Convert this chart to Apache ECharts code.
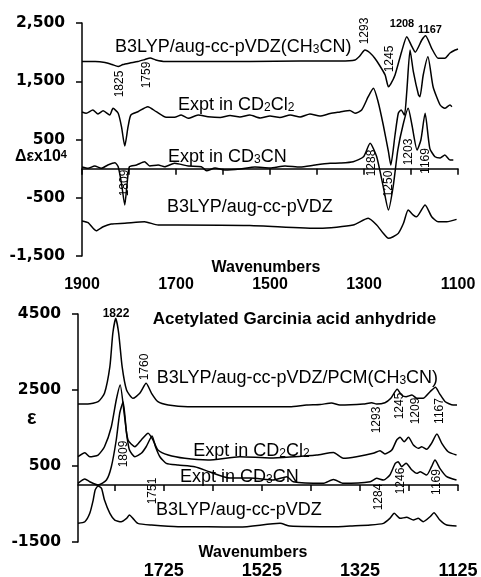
<!DOCTYPE html>
<html>
<head>
<meta charset="utf-8">
<script src="https://cdn.jsdelivr.net/npm/echarts@6/dist/echarts.min.js"></script>
<style>
  html, body { margin: 0; padding: 0; background: #fff; }
  #chart { width: 481px; height: 577px; }
</style>
</head>
<body>
<div id="chart"></div>
<script>
// ---- VCD panel (top), [wavenumber, Δε x10^4] ----
const vcdCalcCH3CN = [
  [1900, 1839], [1872, 1839], [1851, 1822], [1836, 1787], [1823, 1753], [1813, 1787],
  [1798, 1813], [1781, 1839], [1766, 1873], [1755, 1899], [1743, 1865], [1723, 1839],
  [1543, 1839], [1436, 1848], [1351, 1848], [1319, 1865], [1309, 1933], [1298, 2036],
  [1287, 1985], [1277, 1894], [1266, 1762], [1255, 1607], [1248, 1406], [1243, 1453],
  [1234, 1607], [1220, 2007], [1209, 2265], [1198, 2093], [1191, 2000], [1177, 2208],
  [1169, 2282], [1156, 2066], [1142, 1894], [1128, 1894], [1117, 1985], [1106, 2036],
  [1100, 2054]
];
const vcdExptCD2Cl2 = [
  [1900, 972], [1891, 950], [1877, 1006], [1866, 938], [1855, 994], [1841, 920],
  [1834, 1035], [1823, 950], [1816, 720], [1809, 388], [1802, 720], [1796, 920],
  [1781, 977], [1760, 1063], [1742, 977], [1721, 881], [1703, 881], [1689, 920],
  [1674, 864], [1653, 920], [1632, 891], [1606, 877], [1585, 912], [1564, 886],
  [1543, 920], [1521, 869], [1500, 903], [1479, 877], [1457, 920], [1436, 886],
  [1415, 938], [1394, 903], [1372, 946], [1351, 972], [1330, 998], [1319, 950],
  [1305, 1006], [1291, 1235], [1280, 1379], [1270, 1149], [1259, 749], [1248, 290],
  [1243, 62], [1234, 577], [1227, 950], [1221, 1006], [1214, 920], [1209, 1320],
  [1202, 2036], [1195, 1664], [1184, 1264], [1181, 1235], [1174, 1607], [1164, 1921],
  [1153, 1406], [1138, 1092], [1128, 1035], [1117, 1092], [1113, 1063]
];
const vcdExptCD3CN = [
  [1900, 27], [1887, 5], [1873, 45], [1859, 5], [1845, 62], [1830, 101],
  [1823, 33], [1816, -252], [1809, -625], [1804, -252], [1799, 33], [1784, 62],
  [1767, 119], [1756, 45], [1738, 62], [1724, 33], [1703, 91], [1674, 45],
  [1646, 33], [1635, -36], [1617, 10], [1596, -24], [1564, -7], [1532, 27],
  [1500, 10], [1468, 45], [1436, 27], [1404, 62], [1372, 91], [1351, 96],
  [1323, 119], [1301, 204], [1287, 434], [1273, 204], [1259, -311], [1248, -711],
  [1238, -311], [1228, 320], [1217, 749], [1206, 1035], [1198, 749], [1187, 319],
  [1179, 491], [1170, 950], [1160, 349], [1149, 204], [1138, 182], [1128, 234],
  [1117, 148], [1110, 148]
];
const vcdCalcGas = [
  [1900, -900], [1887, -929], [1870, -1066], [1855, -997], [1838, -951], [1809, -939],
  [1767, -912], [1738, -968], [1696, -968], [1543, -977], [1394, -1025], [1323, -968],
  [1291, -853], [1273, -968], [1259, -1111], [1248, -1197], [1238, -1169], [1227, -1111],
  [1216, -939], [1206, -711], [1195, -797], [1188, -826], [1170, -625], [1156, -826],
  [1142, -912], [1124, -912], [1103, -871]
];

// ---- IR panel (bottom), [wavenumber, ε] ----
const irCalcPCM = [
  [1900, 2131], [1880, 2131], [1859, 2192], [1846, 2413], [1835, 3113], [1829, 3992],
  [1823, 4387], [1817, 3992], [1810, 3113], [1801, 2500], [1788, 2281], [1774, 2413],
  [1761, 2676], [1750, 2413], [1737, 2192], [1716, 2105], [1676, 2060], [1570, 2060],
  [1468, 2060], [1434, 2105], [1406, 2118], [1383, 2158], [1366, 2105], [1318, 2131],
  [1301, 2165], [1291, 2131], [1274, 2165], [1262, 2281], [1249, 2518], [1240, 2368],
  [1231, 2323], [1219, 2368], [1209, 2281], [1196, 2281], [1182, 2455], [1171, 2571],
  [1163, 2413], [1151, 2192], [1135, 2105], [1127, 2105]
];
const irExptCD2Cl2 = [
  [1900, 744], [1886, 849], [1876, 744], [1859, 789], [1846, 1007], [1832, 1534],
  [1822, 2237], [1814, 2631], [1805, 1797], [1798, 1184], [1784, 1007], [1771, 1184],
  [1757, 1360], [1747, 1184], [1737, 920], [1716, 789], [1682, 702], [1635, 657],
  [1570, 744], [1508, 710], [1468, 736], [1413, 789], [1379, 855], [1359, 702],
  [1332, 744], [1298, 834], [1284, 902], [1274, 815], [1260, 920], [1250, 1184],
  [1243, 1255], [1235, 1139], [1226, 1255], [1216, 1052], [1206, 965], [1199, 1007],
  [1189, 939], [1179, 1097], [1168, 1342], [1158, 1097], [1145, 876], [1128, 789]
];
const irExptCD3CN = [
  [1900, 44], [1886, 157], [1876, 86], [1859, 0], [1842, 131], [1832, 481],
  [1822, 1184], [1815, 1886], [1808, 2184], [1801, 1360], [1795, 920], [1784, 744],
  [1771, 834], [1761, 1007], [1749, 1289], [1742, 1007], [1733, 744], [1720, 570],
  [1696, 526], [1662, 481], [1631, 342], [1590, 183], [1549, 183], [1502, 131],
  [1474, 218], [1461, 86], [1400, 44], [1379, 144], [1359, 44], [1304, 86],
  [1291, 176], [1277, 131], [1264, 263], [1253, 570], [1247, 613], [1240, 481],
  [1231, 570], [1219, 394], [1209, 307], [1202, 349], [1189, 263], [1179, 481],
  [1172, 657], [1162, 439], [1148, 218], [1128, 131]
];
const irCalcGas = [
  [1900, -1009], [1886, -967], [1876, -746], [1869, -396], [1865, -132], [1859, -27],
  [1852, -88], [1846, -396], [1835, -746], [1825, -922], [1812, -967], [1801, -878],
  [1795, -790], [1788, -878], [1778, -1009], [1750, -1054], [1696, -1098], [1635, -1098],
  [1570, -1106], [1488, -1009], [1468, -1080], [1372, -1098], [1345, -1080], [1304, -1054],
  [1277, -1009], [1264, -878], [1255, -746], [1243, -878], [1230, -851], [1216, -922],
  [1206, -878], [1196, -967], [1182, -835], [1174, -730], [1162, -922], [1148, -1054],
  [1128, -1080]
];

// ---- ticks ----
const vcdXTicks = [1100, 1200, 1300, 1400, 1500, 1600, 1700, 1800, 1900];
const vcdXLabels = [1100, 1300, 1500, 1700, 1900];
const vcdYTicks = [-1500, -500, 500, 1500, 2500];
const irXTicks = [1125, 1225, 1325, 1425, 1525, 1625, 1725, 1825];
const irXLabels = [1125, 1325, 1525, 1725];
const irYTicks = [-1500, 500, 2500, 4500];

const BLACK = '#000';
const LABEL_FONT = 'Liberation Sans';

const chart = echarts.init(document.getElementById('chart'));

function axisX(gridIndex, min, max, ticks, labels, fontSize, margin) {
  return {
    type: 'value', gridIndex, min, max, inverse: true,
    axisLine: {lineStyle: {color: BLACK, width: 1.5}},
    axisTick: {show: true, length: 6, lineStyle: {color: BLACK, width: 1.5}, customValues: ticks},
    axisLabel: {
      customValues: labels, color: BLACK, fontWeight: 'bold', fontSize,
      fontFamily: LABEL_FONT, margin, formatter: v => String(v)
    },
    splitLine: {show: false}
  };
}

function axisY(gridIndex, min, max, ticks, fmt) {
  return {
    type: 'value', gridIndex, min, max,
    axisLine: {show: true, lineStyle: {color: BLACK, width: 1.5}},
    axisTick: {show: true, length: 6, lineStyle: {color: BLACK, width: 1.5}, customValues: ticks},
    axisLabel: {
      customValues: ticks, color: BLACK, fontWeight: 'bold', fontSize: 15.5,
      fontFamily: 'DejaVu Sans', margin: 17, formatter: fmt
    },
    splitLine: {show: false}
  };
}

function line(data, xi) {
  return {
    type: 'line', xAxisIndex: xi, yAxisIndex: xi, data,
    showSymbol: false, smooth: 0.2, animation: false,
    lineStyle: {color: BLACK, width: 1.5}
  };
}

// rich text with sub / superscripts
const rich = {
  n: {fontSize: 18, fontFamily: LABEL_FONT, fill: BLACK, lineHeight: 22, verticalAlign: 'bottom'},
  s: {fontSize: 12, fontFamily: LABEL_FONT, fill: BLACK, lineHeight: 18, verticalAlign: 'bottom'},
  yb: {fontSize: 16, fontFamily: LABEL_FONT, fontWeight: 'bold', fill: BLACK, lineHeight: 18, verticalAlign: 'top'},
  ys: {fontSize: 11, fontFamily: LABEL_FONT, fontWeight: 'bold', fill: BLACK, lineHeight: 11, verticalAlign: 'top'}
};

function label(text, x, y) {
  return {
    type: 'text', x, y, z: 10,
    style: {text, rich, align: 'left', verticalAlign: 'middle'}
  };
}

function peak(text, x, y, rotated, size, bold) {
  return {
    type: 'text', x, y, z: 10, rotation: rotated ? Math.PI / 2 : 0,
    style: {
      text, fill: BLACK, fontSize: size || 12, fontFamily: LABEL_FONT,
      fontWeight: bold ? 'bold' : 'normal', align: 'center', verticalAlign: 'middle'
    }
  };
}

const option = {
  backgroundColor: '#fff',
  animation: false,
  grid: [
    {left: 82, top: 23, width: 376, height: 233, outerBoundsMode: 'none'},
    {left: 78, top: 314, width: 380, height: 228, outerBoundsMode: 'none'}
  ],
  xAxis: [
    axisX(0, 1100, 1900, vcdXTicks, vcdXLabels, 16, 21),
    axisX(1, 1125, 1900, irXTicks, irXLabels, 18, 20)
  ],
  yAxis: [
    axisY(0, -1500, 2500, vcdYTicks, v => v.toLocaleString('en-US')),
    axisY(1, -1500, 4500, irYTicks, v => String(v))
  ],
  series: [
    line(vcdCalcCH3CN, 0), line(vcdExptCD2Cl2, 0), line(vcdExptCD3CN, 0), line(vcdCalcGas, 0),
    line(irCalcPCM, 1), line(irExptCD2Cl2, 1), line(irExptCD3CN, 1), line(irCalcGas, 1)
  ],
  graphic: [
    // top panel
    label('{n|B3LYP/aug-cc-pVDZ(CH}{s|3}{n|CN)}', 115, 45),
    label('{n|Expt in CD}{s|2}{n|Cl}{s|2}', 178, 103),
    label('{n|Expt in CD}{s|3}{n|CN}', 168, 155),
    label('{n|B3LYP/aug-cc-pVDZ}', 167, 205),
    label('{yb|Δεx10}{ys|4}', 15, 158),
    peak('Wavenumbers', 266, 268, false, 16, true),
    peak('1825', 119.5, 84, true),
    peak('1759', 147, 75, true),
    peak('1293', 365, 31, true),
    peak('1245', 390, 59, true),
    peak('1208', 402, 24, false, 11, true),
    peak('1167', 430, 30, false, 11, true),
    peak('1809', 125, 183, true),
    peak('1288', 371.7, 163, true),
    peak('1250', 389, 184, true),
    peak('1203', 409, 152, true),
    peak('1169', 426, 161, true),
    // bottom panel
    {
      type: 'text', x: 152.7, y: 319, z: 10,
      style: {text: 'Acetylated Garcinia acid anhydride', fill: BLACK, fontSize: 17,
        fontFamily: LABEL_FONT, fontWeight: 'bold', align: 'left', verticalAlign: 'middle'}
    },
    label('{n|B3LYP/aug-cc-pVDZ/PCM(CH}{s|3}{n|CN)}', 156.7, 376),
    label('{n|Expt in CD}{s|2}{n|Cl}{s|2}', 193.3, 449),
    label('{n|Expt in CD}{s|3}{n|CN}', 180, 475),
    label('{n|B3LYP/aug-cc-pVDZ}', 156, 508),
    peak('ε', 31.7, 418, false, 20, true),
    peak('Wavenumbers', 253, 553, false, 16, true),
    peak('1822', 116, 314, false, 12, true),
    peak('1760', 145, 367, true),
    peak('1809', 123.3, 454, true),
    peak('1751', 152.7, 491, true),
    peak('1293', 376.7, 420, true),
    peak('1245', 400, 406, true),
    peak('1209', 415.7, 411, true),
    peak('1167', 440, 411, true),
    peak('1284', 378.3, 497, true),
    peak('1246', 401, 481, true),
    peak('1169', 436.7, 482, true)
  ]
};

chart.setOption(option);
</script>
</body>
</html>
